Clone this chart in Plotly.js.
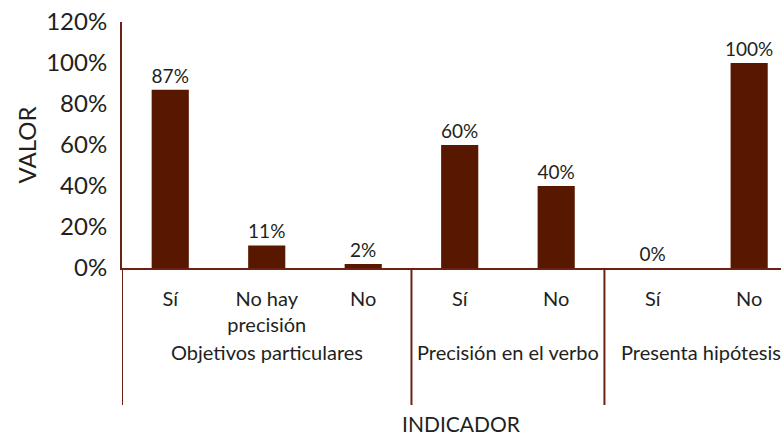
<!DOCTYPE html>
<html>
<head>
<meta charset="utf-8">
<script src="https://cdn.plot.ly/plotly-3.0.1.min.js"></script>
<style>html,body{margin:0;padding:0;background:#fff;}#chart{width:781px;height:438px;}</style>
</head>
<body>
<div id="chart"></div>
<script>
const groups = ["Objetivos particulares", "Objetivos particulares", "Objetivos particulares",
                "Precisión en el verbo", "Precisión en el verbo",
                "Presenta hipótesis", "Presenta hipótesis"];
const subcategories = ["Sí", "No hay<br>precisión", "No", "Sí", "No", "Sí", "No"];
const values = [0.87, 0.11, 0.02, 0.60, 0.40, 0.00, 1.00];
const yTicks = [0, 0.2, 0.4, 0.6, 0.8, 1.0, 1.2];

const barColor = "#581800";
const lineColor = "#6b2212";
const textColor = "#231f20";
const fontFamily = "Lato, 'Open Sans', sans-serif";

const positions = subcategories.map((_, i) => i);

// group spans and boundaries derived from the group array
const groupSpans = [];
groups.forEach((g, i) => {
  const last = groupSpans[groupSpans.length - 1];
  if (last && last.name === g) last.end = i;
  else groupSpans.push({name: g, start: i, end: i});
});
const boundaries = [groupSpans[0].start - 0.5].concat(groupSpans.map(s => s.end + 0.5));

const trace = {
  type: "bar",
  x: positions,
  y: values,
  marker: {color: barColor, line: {width: 0}},
  width: 0.385,
  texttemplate: "%{y:.0%}",
  textposition: "outside",
  constraintext: "none",
  cliponaxis: false,
  textfont: {family: fontFamily, size: 19, color: textColor},
  hoverinfo: "skip"
};

const plotLeft = 122, plotWidth = 659, plotBottom = 268, plotHeight = 246;
const toPaperY = px => (plotBottom - px) / plotHeight;

const annotations = groupSpans.map(s => ({
  text: s.name,
  x: (s.start + s.end) / 2, xref: "x",
  y: toPaperY(352), yref: "paper", yanchor: "middle", xanchor: "center",
  showarrow: false,
  font: {family: fontFamily, size: 20, color: textColor}
}));
annotations.push({
  text: "INDICADOR",
  x: (461 - plotLeft) / plotWidth, xref: "paper",
  y: toPaperY(423), yref: "paper",
  showarrow: false, yanchor: "middle", xanchor: "center", borderpad: 0,
  font: {family: fontFamily, size: 21, color: textColor}
});

const shapes = boundaries.map(b => ({
  type: "line", xref: "x", yref: "paper",
  x0: b, x1: b, y0: 0, y1: toPaperY(405),
  line: {color: lineColor, width: 2}
}));

const layout = {
  width: 781, height: 438,
  margin: {l: 122, r: 0, t: 22, b: 170},
  paper_bgcolor: "#fff", plot_bgcolor: "#fff",
  font: {family: fontFamily, color: textColor},
  showlegend: false,
  xaxis: {
    range: [-0.5, 6.33],
    tickvals: positions,
    ticktext: subcategories,
    showline: true, linecolor: lineColor, linewidth: 2,
    showgrid: false, zeroline: false,
    ticks: "outside", ticklen: 12, tickcolor: "rgba(0,0,0,0)",
    tickfont: {family: fontFamily, size: 20, color: textColor},
    automargin: false
  },
  yaxis: {
    range: [0, 1.2],
    tickvals: yTicks,
    tickformat: ".0%",
    showline: true, linecolor: lineColor, linewidth: 2,
    showgrid: false, zeroline: false,
    ticks: "outside", ticklen: 8, tickcolor: "rgba(0,0,0,0)",
    tickfont: {family: fontFamily, size: 24, color: textColor},
    automargin: false,
    title: {text: "VALOR", font: {family: fontFamily, size: 24, color: textColor}, standoff: 3}
  },
  annotations: annotations,
  shapes: shapes
};

Plotly.newPlot("chart", [trace], layout, {displayModeBar: false, staticPlot: true});
</script>
</body>
</html>
